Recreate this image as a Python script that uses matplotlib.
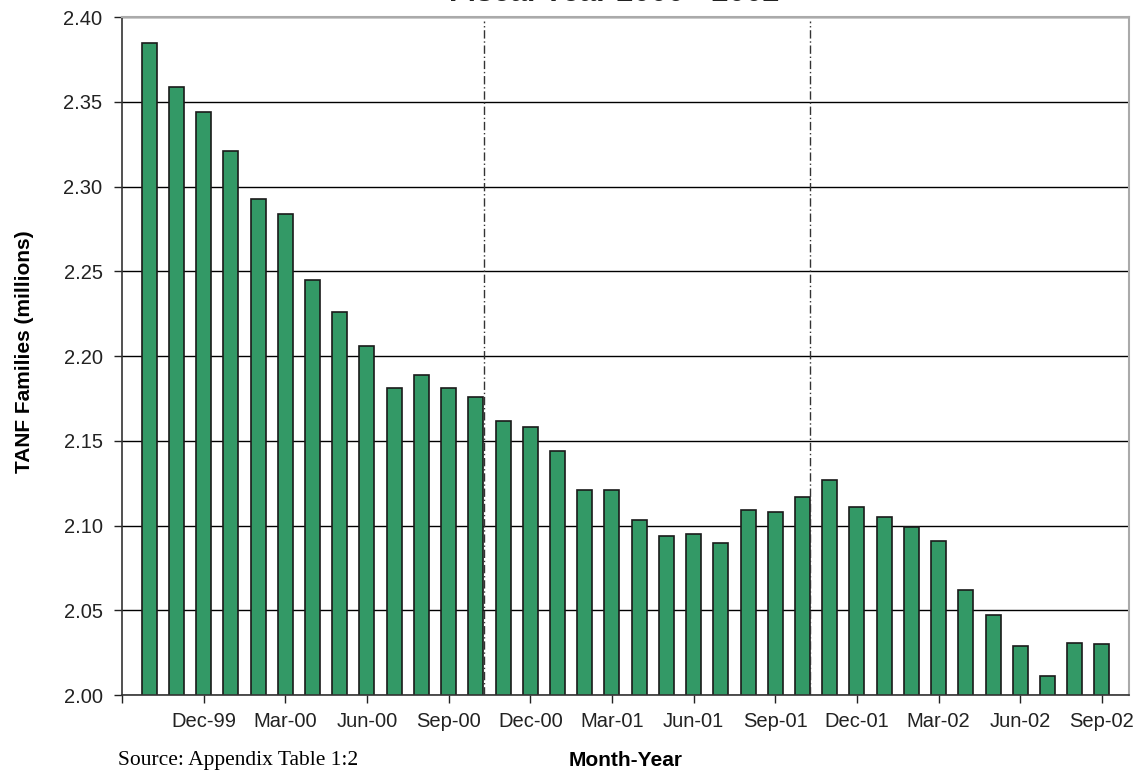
import matplotlib.pyplot as plt
import numpy as np
import pandas as pd

plt.rcParams['font.family'] = ['Liberation Sans', 'DejaVu Sans']

# monthly caseload, Oct-99 .. Sep-02 (millions of families)
months = list(pd.date_range('1999-10-01', periods=36, freq='MS').strftime('%b-%y'))
families = [2.385, 2.359, 2.344, 2.321, 2.293, 2.284, 2.245, 2.226, 2.206, 2.181,
            2.189, 2.181, 2.176, 2.162, 2.158, 2.144, 2.121, 2.121, 2.103, 2.094,
            2.095, 2.090, 2.109, 2.108, 2.117, 2.127, 2.111, 2.105, 2.099, 2.091,
            2.062, 2.047, 2.029, 2.011, 2.031, 2.030]
tick_labels = ['Dec-99', 'Mar-00', 'Jun-00', 'Sep-00', 'Dec-00', 'Mar-01',
               'Jun-01', 'Sep-01', 'Dec-01', 'Mar-02', 'Jun-02', 'Sep-02']
year_breaks = ['Oct-00', 'Oct-01']   # dashed separators drawn after these months

fig = plt.figure(figsize=(11.38, 7.72), dpi=100)
ax = fig.add_axes([0.1072, 0.0997, 0.885, 0.878])

x = np.arange(len(months))
ax.bar(x, families, width=0.55, color='#339966', edgecolor='#1a1a1a',
       linewidth=1.2, zorder=2)

for m in year_breaks:
    ax.axvline(months.index(m) + 0.29, ymin=0, ymax=0.995, color='#333333',
               linestyle=(0, (6, 2, 1, 2)), linewidth=1.0, zorder=3)

ax.set_xlim(-1, 36)
ax.set_ylim(2.0, 2.4)
ax.set_yticks(np.arange(2.0, 2.401, 0.05))
ax.set_yticklabels(['%.2f' % v for v in np.arange(2.0, 2.401, 0.05)])

tpos = [-1] + [months.index(t) for t in tick_labels]
ax.set_xticks(tpos)
ax.set_xticklabels([''] + tick_labels)

ax.yaxis.grid(True, color='black', linewidth=1.0, zorder=0)
ax.set_axisbelow(True)
ax.tick_params(axis='both', labelsize=14.5, colors='#222222', length=6,
               width=1.0, direction='out', pad=6)
ax.tick_params(axis='y', pad=8)

for s in ['top', 'right']:
    ax.spines[s].set_color('#aaaaaa')
    ax.spines[s].set_linewidth(1.5)
for s in ['left', 'bottom']:
    ax.spines[s].set_color('#333333')
    ax.spines[s].set_linewidth(1.2)

ax.set_ylabel('TANF Families (millions)', fontsize=15, fontweight='bold')
ax.yaxis.set_label_coords(-0.087, 0.507)
fig.text(0.55, 1 - 760 / 772, 'Month-Year', fontsize=15, fontweight='bold',
         ha='center', va='center')
fig.text(0.104, 1 - 760 / 772, 'Source: Appendix Table 1:2', fontsize=15.5,
         family='Liberation Serif', va='center')

# title sits mostly above the visible area, as in the original
fig.text(0.54, 1 - 0.8 / 772, 'Fiscal Year 2000 - 2002', fontsize=22,
         fontweight='bold', ha='center', va='baseline', color='#222222')

plt.savefig('out.png', dpi=100)
